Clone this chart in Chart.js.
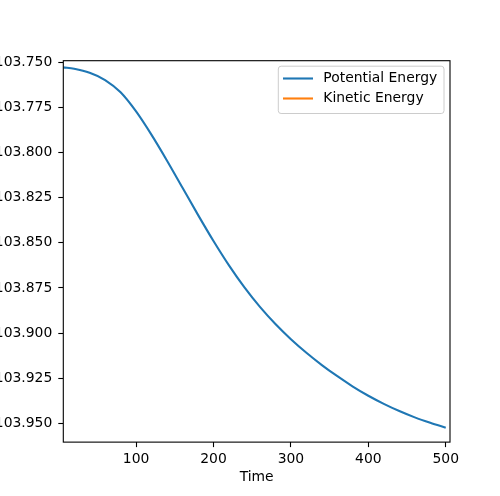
<!DOCTYPE html>
<html>
<head>
<meta charset="utf-8">
<script src="https://cdn.jsdelivr.net/npm/chart.js@4.4.1/dist/chart.umd.min.js"></script>
<style>
  body { margin: 0; background: #fff; }
  #wrap { width: 500px; height: 496px; position: relative; }
</style>
</head>
<body>
<div id="wrap"><canvas id="chart"></canvas></div>
<script>
// values
const timeSteps = [6, 20, 40, 60, 80, 100, 120, 140, 160, 180, 200, 220, 240,
  260, 280, 300, 320, 340, 360, 380, 400, 420, 440, 460, 480, 500]
const potentialEnergy = [-103.7528, -103.7536, -103.7558, -103.7598, -103.7666,
  -103.7772, -103.7902, -103.8045, -103.8195, -103.8345, -103.8490, -103.8625,
  -103.8747, -103.8855, -103.8950, -103.9034, -103.9109, -103.9177, -103.9239,
  -103.9296, -103.9347, -103.9392, -103.9432, -103.9467, -103.9497, -103.9524]
const kineticEnergy = []  // drawn nowhere in the reference, only in the legend
const xTicks = [100, 200, 300, 400, 500]
const yTicks = [-103.750, -103.775, -103.800, -103.825, -103.850, -103.875,
  -103.900, -103.925, -103.950]

const font = { family: "'DejaVu Sans', sans-serif", size: 13.9 }

// matplotlib-like frame around the axes
const frame = {
  id: "frame",
  afterDatasetsDraw(chart) {
    const { ctx, chartArea: a } = chart
    ctx.save()
    ctx.strokeStyle = "#000"
    ctx.lineWidth = 1.1
    ctx.strokeRect(a.left, a.top, a.right - a.left, a.bottom - a.top)
    ctx.restore()
  }
}

// legend box in the upper right of the plot
const insideLegend = {
  id: "insideLegend",
  afterDraw(chart) {
    const { ctx, chartArea: a } = chart
    const x = a.right - 6, y = a.top + 5.5
    const w = 165.7, h = 47.3, r = 2.8
    ctx.save()
    ctx.beginPath()
    ctx.roundRect(x - w, y, w, h, r)
    ctx.fillStyle = "rgba(255,255,255,0.8)"
    ctx.fill()
    ctx.strokeStyle = "#cccccc"
    ctx.lineWidth = 1
    ctx.stroke()
    ctx.font = font.size + "px " + font.family
    ctx.textBaseline = "middle"
    chart.data.datasets.forEach((ds, i) => {
      const ly = y + 12.3 + i * 20
      ctx.beginPath()
      ctx.moveTo(x - w + 4.7, ly)
      ctx.lineTo(x - w + 34.7, ly)
      ctx.strokeStyle = ds.borderColor
      ctx.lineWidth = 2.1
      ctx.stroke()
      ctx.fillStyle = "#000"
      ctx.fillText(ds.label, x - w + 45, ly)
    })
    ctx.restore()
  }
}

const tickFmt = v => (v < 0 ? "\u2212" : "") + Math.abs(v).toFixed(3)

new Chart(document.getElementById("chart"), {
  type: "line",
  data: {
    datasets: [{
      label: "Potential Energy",
      data: timeSteps.map((t, i) => ({ x: t, y: potentialEnergy[i] })),
      borderColor: "#1f77b4",
      borderWidth: 2.1,
      pointRadius: 0,
      cubicInterpolationMode: "monotone"
    }, {
      label: "Kinetic Energy",
      data: kineticEnergy,
      borderColor: "#ff7f0e",
      borderWidth: 2.1,
      pointRadius: 0
    }]
  },
  options: {
    responsive: true,
    maintainAspectRatio: false,
    animation: false,
    devicePixelRatio: 1,
    layout: { padding: { top: 60.7, right: 50, bottom: 11.3, left: 0 } },
    plugins: { legend: { display: false }, tooltip: { enabled: false } },
    scales: {
      x: {
        type: "linear",
        min: 6,
        max: 505.5,
        afterBuildTicks: s => { s.ticks = xTicks.map(v => ({ value: v })) },
        ticks: { color: "#000", font, padding: 3.5, maxRotation: 0 },
        grid: { drawOnChartArea: false, tickLength: 5, tickColor: "#000", tickWidth: 1.1 },
        border: { display: false },
        title: {
          display: true, text: "Time", color: "#000",
          font: { ...font, lineHeight: 1 }, padding: { top: 0, bottom: 0 }
        }
      },
      y: {
        type: "linear",
        min: -103.9604,
        max: -103.7491,
        afterBuildTicks: s => { s.ticks = yTicks.map(v => ({ value: v })) },
        afterFit: s => { s.width = 63.3 },
        ticks: { color: "#000", font, padding: 6, callback: tickFmt },
        grid: { drawOnChartArea: false, tickLength: 5, tickColor: "#000", tickWidth: 1.1 },
        border: { display: false }
      }
    }
  },
  plugins: [frame, insideLegend]
})
</script>
</body>
</html>
